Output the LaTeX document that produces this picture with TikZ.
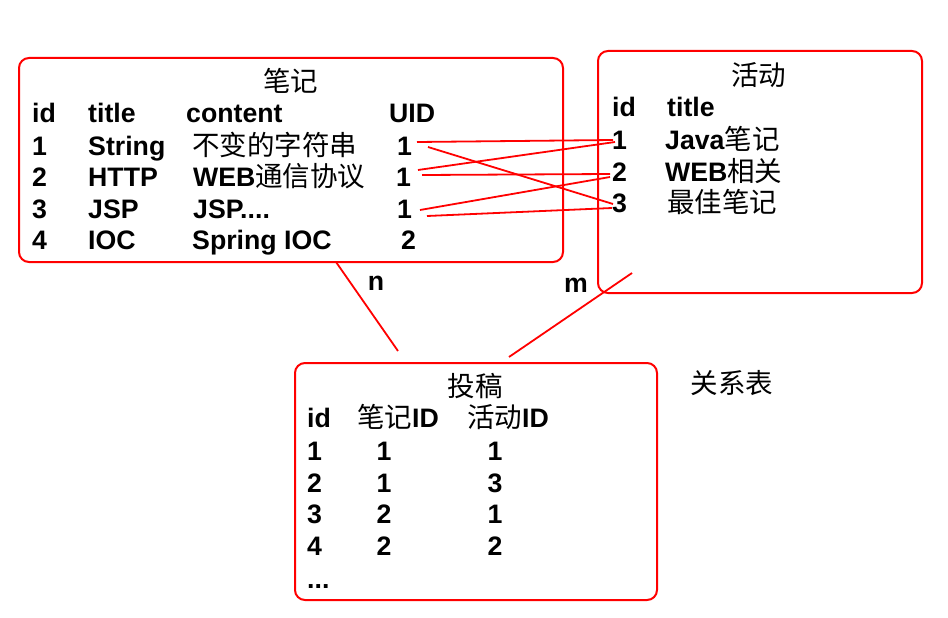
\documentclass[tikz,border=0pt]{standalone}
\usepackage{fontspec}
\setmainfont{Liberation Sans}
\newfontfamily\cjk{Noto Sans CJK SC}
\newcommand{\zh}[1]{{\cjk\mdseries\fontsize{27.5}{30}\selectfont #1}}
\tikzset{
  txt/.style={anchor=base west, inner sep=0pt, font=\bfseries\fontsize{26.7}{30}\selectfont},
  ctxt/.style={anchor=base, inner sep=0pt, font=\bfseries\fontsize{26.7}{30}\selectfont},
  ttl/.style={anchor=center, inner sep=0pt},
  tbox/.style={draw=red, line width=2pt, rounded corners=10pt, inner sep=0pt, outer sep=0pt},
  link/.style={draw=red, line width=1.8pt},
}
\begin{document}
\begin{tikzpicture}[x=1pt, y=-1pt]
\useasboundingbox (0,0) rectangle (948,618);
\fill[white] (0,0) rectangle (948,618);
% boxes
\node[tbox, minimum width=544pt, minimum height=204pt] (L) at (291,160) {};
\node[tbox, minimum width=324pt, minimum height=242pt] (R) at (760,172) {};
\node[tbox, minimum width=362pt, minimum height=237pt] (B) at (476,481.5) {};
% left table
\node[ttl] (Lt) at (290.5,80.5) {\zh{笔记}};
\node[txt] (Lh1) at (32,122) {id};
\node[txt] (Lh2) at (88,122) {title};
\node[txt] (Lh3) at (186,122) {content};
\node[txt] (Lh4) at (389,122) {UID};
\node[txt] (La1) at (32,155) {1};
\node[txt] (Lb1) at (88,155) {String};
\node[txt] (Lc1) at (192,155) {\zh{不变的字符串}};
\node[txt] (Ld1) at (397,155) {1};
\node[txt] (La2) at (32,186) {2};
\node[txt] (Lb2) at (88,186) {HTTP};
\node[txt] (Lc2) at (193,186) {WEB\zh{通信协议}};
\node[txt] (Ld2) at (396,186) {1};
\node[txt] (La3) at (32,218) {3};
\node[txt] (Lb3) at (88,218) {JSP};
\node[txt] (Lc3) at (193,218) {JSP....};
\node[txt] (Ld3) at (397,218) {1};
\node[txt] (La4) at (32,249) {4};
\node[txt] (Lb4) at (88,249) {IOC};
\node[txt] (Lc4) at (192,249) {Spring IOC};
\node[txt] (Ld4) at (401,249) {2};
% right table
\node[ttl] (Rt) at (758.5,75.5) {\zh{活动}};
\node[txt] (Rh1) at (612,117) {id};
\node[txt] (Rh2) at (667,117) {title};
\node[txt] (Ra1) at (612,149) {1};
\node[txt] (Rb1) at (665,149) {Java\zh{笔记}};
\node[txt] (Ra2) at (612,181) {2};
\node[txt] (Rb2) at (665,181) {WEB\zh{相关}};
\node[txt] (Ra3) at (612,212) {3};
\node[txt] (Rb3) at (667,212) {\zh{最佳笔记}};
% bottom table
\node[ttl] (Bt) at (475,386) {\zh{投稿}};
\node[txt] (Bh1) at (307,427) {id};
\node[txt] (Bh2) at (357,427) {\zh{笔记}ID};
\node[txt] (Bh3) at (467,427) {\zh{活动}ID};
\node[txt] (Ba1) at (307,460) {1};
\node[ctxt] (Bb1) at (384,460) {1};
\node[ctxt] (Bc1) at (495,460) {1};
\node[txt] (Ba2) at (307,492) {2};
\node[ctxt] (Bb2) at (384,492) {1};
\node[ctxt] (Bc2) at (495,492) {3};
\node[txt] (Ba3) at (307,523) {3};
\node[ctxt] (Bb3) at (384,523) {2};
\node[ctxt] (Bc3) at (495,523) {1};
\node[txt] (Ba4) at (307,555) {4};
\node[ctxt] (Bb4) at (384,555) {2};
\node[ctxt] (Bc4) at (495,555) {2};
\node[txt] (Ba5) at (307,588) {...};
% labels
\node[ttl] (rel) at (732,383) {\zh{关系表}};
\node[ctxt] (nlab) at (376,290) {n};
\node[ctxt] (mlab) at (576,292) {m};
% connector end points
\coordinate (p1) at (417,142); \coordinate (q1) at (613,140);
\coordinate (p2) at (428,147); \coordinate (q2) at (613,204);
\coordinate (p3) at (418,170); \coordinate (q3) at (615,142);
\coordinate (p4) at (422,175); \coordinate (q4) at (610,174);
\coordinate (p5) at (420,210); \coordinate (q5) at (610,177);
\coordinate (p6) at (427,216); \coordinate (q6) at (612,208);
\coordinate (n1) at (336,262); \coordinate (n2) at (398,351);
\coordinate (m1) at (632,273); \coordinate (m2) at (509,357);
\draw[link] (p1) -- (q1);
\draw[link] (p2) -- (q2);
\draw[link] (p3) -- (q3);
\draw[link] (p4) -- (q4);
\draw[link] (p5) -- (q5);
\draw[link] (p6) -- (q6);
\draw[link] (n1) -- (n2);
\draw[link] (m1) -- (m2);
\end{tikzpicture}
\end{document}
